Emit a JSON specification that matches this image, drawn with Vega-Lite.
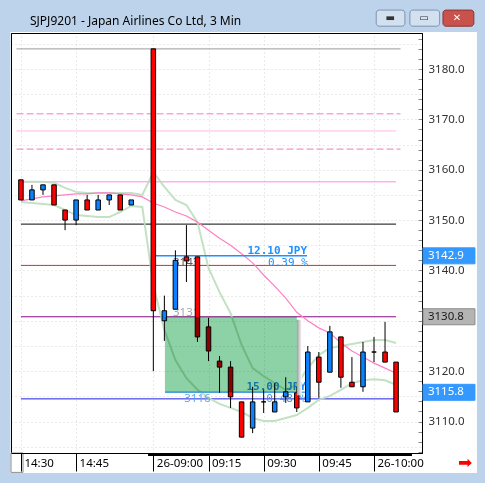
{
  "$schema": "https://vega.github.io/schema/vega-lite/v6.json",
  "description": "SJPJ9201 Japan Airlines, 3-minute candles with moving average, bands, horizontal levels and two measure tools",
  "autosize": "none",
  "width": 411,
  "height": 420,
  "padding": {"left": 11, "top": 33, "right": 63, "bottom": 30},
  "background": "#ffffff",
  "title": {
    "text": "SJPJ9201 - Japan Airlines Co Ltd, 3 Min",
    "anchor": "start",
    "frame": "group",
    "offset": -28,
    "dx": 19,
    "font": "Noto Sans",
    "fontSize": 12,
    "fontWeight": "normal",
    "color": "#000000",
    "zindex": 2
  },
  "config": {
    "view": {"stroke": "#000000", "strokeWidth": 1, "fill": "#ffffff"},
    "font": "Noto Sans"
  },
  "datasets": {
    "bars": [
      {"i": 0, "o": 3158, "h": 3158, "l": 3154, "c": 3154},
      {"i": 1, "o": 3154, "h": 3157, "l": 3154, "c": 3156},
      {"i": 2, "o": 3156, "h": 3157, "l": 3155, "c": 3157},
      {"i": 3, "o": 3157, "h": 3157, "l": 3153, "c": 3153},
      {"i": 4, "o": 3152, "h": 3152, "l": 3148, "c": 3150},
      {"i": 5, "o": 3150, "h": 3154, "l": 3149, "c": 3154},
      {"i": 6, "o": 3154, "h": 3155, "l": 3152, "c": 3152},
      {"i": 7, "o": 3152, "h": 3155, "l": 3152, "c": 3154},
      {"i": 8, "o": 3154, "h": 3155, "l": 3153, "c": 3155},
      {"i": 9, "o": 3155, "h": 3155, "l": 3152, "c": 3152},
      {"i": 10, "o": 3153, "h": 3154, "l": 3153, "c": 3154},
      {"i": 12, "o": 3184, "h": 3184, "l": 3120, "c": 3132},
      {"i": 13, "o": 3130, "h": 3135, "l": 3126, "c": 3132},
      {"i": 14, "o": 3132.3, "h": 3144, "l": 3132.3, "c": 3142},
      {"i": 15, "o": 3142.7, "h": 3149, "l": 3137.7, "c": 3141.9},
      {"i": 16, "o": 3142.7, "h": 3142.7, "l": 3125.8, "c": 3126.8},
      {"i": 17, "o": 3128.8, "h": 3130.6, "l": 3122, "c": 3124},
      {"i": 18, "o": 3122, "h": 3123, "l": 3115.7, "c": 3120.8},
      {"i": 19, "o": 3120.8, "h": 3122, "l": 3112.7, "c": 3114.9},
      {"i": 20, "o": 3113.9, "h": 3113.9, "l": 3106.9, "c": 3106.9},
      {"i": 21, "o": 3108.7, "h": 3116.9, "l": 3107.7, "c": 3113.9},
      {"i": 22, "o": 3113.9, "h": 3116.3, "l": 3111.7, "c": 3113.9},
      {"i": 23, "o": 3111.9, "h": 3117.6, "l": 3111.9, "c": 3113.9},
      {"i": 24, "o": 3114.9, "h": 3118.8, "l": 3113.7, "c": 3115.9},
      {"i": 25, "o": 3115.7, "h": 3116.9, "l": 3111.9, "c": 3112.7},
      {"i": 26, "o": 3113.9, "h": 3125, "l": 3113.9, "c": 3123.8},
      {"i": 27, "o": 3122.8, "h": 3123.8, "l": 3114.7, "c": 3117.8},
      {"i": 28, "o": 3119.8, "h": 3129, "l": 3119.8, "c": 3127.8},
      {"i": 29, "o": 3126.8, "h": 3126.8, "l": 3116.7, "c": 3118.8},
      {"i": 30, "o": 3117.8, "h": 3122.8, "l": 3116.9, "c": 3116.9},
      {"i": 31, "o": 3116.9, "h": 3125.8, "l": 3115.9, "c": 3123.8},
      {"i": 32, "o": 3123.8, "h": 3126.8, "l": 3121.8, "c": 3123.8},
      {"i": 33, "o": 3123.8, "h": 3129.8, "l": 3121.8, "c": 3121.8},
      {"i": 34, "o": 3121.8, "h": 3121.8, "l": 3111.9, "c": 3111.9}
    ],
    "studies": [
      {"i": 0, "up": 3157.6, "ma": 3153.8, "dn": 3153.6},
      {"i": 1, "up": 3157.6, "ma": 3154.2, "dn": 3153.4},
      {"i": 2, "up": 3157.6, "ma": 3154.6, "dn": 3153.2},
      {"i": 3, "up": 3157.4, "ma": 3154.8, "dn": 3153.0},
      {"i": 4, "up": 3156.4, "ma": 3155.0, "dn": 3152.0},
      {"i": 5, "up": 3155.6, "ma": 3155.2, "dn": 3151.0},
      {"i": 6, "up": 3155.4, "ma": 3155.2, "dn": 3150.8},
      {"i": 7, "up": 3155.4, "ma": 3155.4, "dn": 3150.6},
      {"i": 8, "up": 3155.4, "ma": 3155.4, "dn": 3150.6},
      {"i": 9, "up": 3155.4, "ma": 3155.2, "dn": 3151.6},
      {"i": 10, "up": 3155.4, "ma": 3155.0, "dn": 3152.8},
      {"i": 11, "up": 3155.0, "ma": 3154.6, "dn": 3152.6},
      {"i": 12, "up": 3159.5, "ma": 3153.4, "dn": 3137.1},
      {"i": 13, "up": 3156.6, "ma": 3152.6, "dn": 3128.2},
      {"i": 14, "up": 3154.0, "ma": 3151.6, "dn": 3122.2},
      {"i": 15, "up": 3153.0, "ma": 3150.8, "dn": 3118.6},
      {"i": 16, "up": 3149.6, "ma": 3149.6, "dn": 3116.3},
      {"i": 17, "up": 3140.5, "ma": 3148.0, "dn": 3114.7},
      {"i": 18, "up": 3135.7, "ma": 3146.4, "dn": 3113.5},
      {"i": 19, "up": 3131.5, "ma": 3145.0, "dn": 3112.7},
      {"i": 20, "up": 3125.2, "ma": 3143.3, "dn": 3111.9},
      {"i": 21, "up": 3120.6, "ma": 3141.5, "dn": 3110.7},
      {"i": 22, "up": 3119.0, "ma": 3139.1, "dn": 3110.1},
      {"i": 23, "up": 3117.6, "ma": 3136.9, "dn": 3110.1},
      {"i": 24, "up": 3116.3, "ma": 3134.5, "dn": 3110.7},
      {"i": 25, "up": 3117.3, "ma": 3131.7, "dn": 3111.3},
      {"i": 26, "up": 3120.6, "ma": 3130.0, "dn": 3112.7},
      {"i": 27, "up": 3123.2, "ma": 3128.6, "dn": 3114.3},
      {"i": 28, "up": 3124.6, "ma": 3127.6, "dn": 3115.1},
      {"i": 29, "up": 3125.0, "ma": 3125.6, "dn": 3116.3},
      {"i": 30, "up": 3125.4, "ma": 3124.0, "dn": 3117.6},
      {"i": 31, "up": 3125.8, "ma": 3122.8, "dn": 3118.2},
      {"i": 32, "up": 3126.2, "ma": 3121.6, "dn": 3118.4},
      {"i": 33, "up": 3126.2, "ma": 3120.6, "dn": 3118.2},
      {"i": 34, "up": 3125.6, "ma": 3119.6, "dn": 3117.3}
    ],
    "levels": [
      {"name": "high", "price": 3184.0, "x0": -0.4, "x1": 34.4},
      {"name": "r3", "price": 3171.1, "x0": -0.4, "x1": 34.4},
      {"name": "r2", "price": 3167.7, "x0": -0.4, "x1": 34.0},
      {"name": "r1", "price": 3164.1, "x0": -0.4, "x1": 34.4},
      {"name": "prev", "price": 3157.6, "x0": 0, "x1": 34.0},
      {"name": "s1", "price": 3149.2, "x0": 0, "x1": 34.0},
      {"name": "s2", "price": 3141.0, "x0": 0, "x1": 34.0},
      {"name": "ref", "price": 3130.8, "x0": 0, "x1": 34.0},
      {"name": "low", "price": 3114.5, "x0": 0, "x1": 34.0}
    ],
    "measures": [
      {"tool": "m1", "price": 3142.9, "x0": 11.88, "x1": 25.93},
      {"tool": "m2", "price": 3115.8, "x0": 13.06, "x1": 25.84}
    ],
    "amounts": [
      {"tool": "m1", "i": 25.93, "price": 3142.9, "label": "12.10 JPY"},
      {"tool": "m2", "i": 25.84, "price": 3115.8, "label": "15.00 JPY"}
    ],
    "percents": [
      {"tool": "m1", "i": 26.0, "price": 3142.9, "label": "0.39 %"},
      {"tool": "m2", "i": 25.84, "price": 3115.8, "label": "0.48 %"}
    ],
    "ends": [
      {"i": 13.78, "price": 3142.9, "label": "3143", "side": "upper"},
      {"i": 14.8, "price": 3115.8, "label": "3116", "side": "lower"}
    ],
    "mids": [
      {"i": 13.78, "price": 3130.8, "label": "3131"}
    ],
    "zone": [
      {"x0": 13.05, "x1": 25.0, "lo": 3115.8, "hi": 3130.8}
    ],
    "tags": [
      {"tag": "measure", "price": 3142.9},
      {"tag": "level", "price": 3130.8},
      {"tag": "last", "price": 3115.8}
    ],
    "frame": [
      {"part": "top", "x0": -1.95, "x1": 42.1, "y0": 3187.35, "y1": 3193.8},
      {"part": "left", "x0": -1.95, "x1": -0.95, "y0": 3097.7, "y1": 3187.35},
      {"part": "right", "x0": 41.33, "x1": 42.1, "y0": 3097.7, "y1": 3187.35},
      {"part": "bottom", "x0": -1.95, "x1": 42.1, "y0": 3097.7, "y1": 3099.8}
    ],
    "buttons": [
      {"kind": "min", "x0": 32.2, "x1": 34.8, "glyph": "▬"},
      {"kind": "max", "x0": 35.25, "x1": 37.95, "glyph": "▭"},
      {"kind": "close", "x0": 38.25, "x1": 41.05, "glyph": "✕"}
    ]
  },
  "layer": [
    {
      "data": {"name": "bars"},
      "mark": {"type": "rule", "color": "#000000", "strokeWidth": 1},
      "encoding": {
        "x": {
          "field": "i", "type": "quantitative",
          "scale": {"domain": [-0.9, 36.35], "nice": false, "zero": false, "padding": 0},
          "axis": {
            "orient": "bottom", "title": null, "zindex": 1, "offset": 0,
            "values": [0, 5, 12, 17, 22, 27, 32],
            "labelExpr": "datum.value == 0 ? '14:30' : datum.value == 5 ? '14:45' : datum.value == 12 ? '26-09:00' : datum.value == 17 ? '09:15' : datum.value == 22 ? '09:30' : datum.value == 27 ? '09:45' : '26-10:00'",
            "domain": true, "domainColor": "#000000", "ticks": true, "tickSize": 18, "tickColor": "#000000", "tickWidth": 1,
            "labelAlign": "left", "labelBaseline": "top", "labelPadding": -14, "labelOffset": 3,
            "labelFont": "Noto Sans", "labelFontSize": 11.5, "labelColor": "#000000",
            "labelFlush": false, "labelOverlap": false, "labelBound": false,
            "grid": false
          }
        },
        "y": {
          "field": "l", "type": "quantitative",
          "scale": {"domain": [3103.75, 3187.15], "nice": false, "zero": false, "padding": 0},
          "axis": {
            "orient": "right", "title": null,
            "values": [3104, 3106, 3108, 3110, 3112, 3114, 3116, 3118, 3120, 3122, 3124, 3126, 3128, 3130, 3132, 3134, 3136, 3138, 3140, 3142, 3144, 3146, 3148, 3150, 3152, 3154, 3156, 3158, 3160, 3162, 3164, 3166, 3168, 3170, 3172, 3174, 3176, 3178, 3180, 3182, 3184, 3186],
            "labelExpr": "datum.value % 10 == 0 ? format(datum.value, '.1f') : ''",
            "domain": true, "domainColor": "#000000", "domainWidth": 1,
            "ticks": true, "tickSize": -4, "tickColor": "#8a8a8a",
            "labelPadding": 10, "labelFont": "Noto Sans", "labelFontSize": 11.5, "labelColor": "#333333",
            "labelFlush": false, "labelOverlap": false, "labelBound": false,
            "grid": false
          }
        },
        "y2": {"field": "h"},
        "opacity": {"value": 0}
      }
    },
    {
      "data": {"name": "frame"},
      "mark": {"type": "rect", "fill": "#bcd3eb"},
      "encoding": {
        "x": {"field": "x0", "type": "quantitative", "scale": {"domain": [-0.9, 36.35], "nice": false, "zero": false, "padding": 0}, "axis": null},
        "x2": {"field": "x1"},
        "y": {"field": "y0", "type": "quantitative", "scale": {"domain": [3103.75, 3187.15], "nice": false, "zero": false, "padding": 0}, "axis": null},
        "y2": {"field": "y1"}
      }
    },
    {
      "data": {"name": "buttons"},
      "mark": {"type": "rect", "cornerRadius": 3, "strokeWidth": 1},
      "encoding": {
        "x": {"field": "x0", "type": "quantitative", "scale": {"domain": [-0.9, 36.35], "nice": false, "zero": false, "padding": 0}, "axis": null},
        "x2": {"field": "x1"},
        "y": {"datum": 3191.7, "type": "quantitative", "scale": {"domain": [3103.75, 3187.15], "nice": false, "zero": false, "padding": 0}, "axis": null},
        "y2": {"datum": 3188.5},
        "fill": {"field": "kind", "type": "nominal", "legend": null, "scale": {"domain": ["min", "max", "close"], "range": ["#d2e0f0", "#d2e0f0", "#c9524c"]}},
        "stroke": {"field": "kind", "type": "nominal", "legend": null, "scale": {"domain": ["min", "max", "close"], "range": ["#7d93b0", "#7d93b0", "#8a3530"]}}
      }
    },
    {
      "data": {"name": "buttons"},
      "mark": {"type": "text", "align": "center", "baseline": "middle", "font": "DejaVu Sans", "fontSize": 10, "fontWeight": "bold", "xOffset": 14},
      "encoding": {
        "x": {"field": "x0", "type": "quantitative", "scale": {"domain": [-0.9, 36.35], "nice": false, "zero": false, "padding": 0}, "axis": null},
        "y": {"datum": 3190.1, "type": "quantitative", "scale": {"domain": [3103.75, 3187.15], "nice": false, "zero": false, "padding": 0}, "axis": null},
        "text": {"field": "glyph"},
        "color": {"field": "kind", "type": "nominal", "legend": null, "scale": {"domain": ["min", "max", "close"], "range": ["#333333", "#333333", "#ffffff"]}}
      }
    },
    {
      "data": {"values": [{"glyph": "➡"}]},
      "mark": {"type": "text", "align": "center", "baseline": "middle", "font": "DejaVu Sans", "fontSize": 17, "color": "#ff0000"},
      "encoding": {
        "x": {"datum": 40.25, "type": "quantitative", "scale": {"domain": [-0.9, 36.35], "nice": false, "zero": false, "padding": 0}, "axis": null},
        "y": {"datum": 3101.8, "type": "quantitative", "scale": {"domain": [3103.75, 3187.15], "nice": false, "zero": false, "padding": 0}, "axis": null},
        "text": {"field": "glyph"}
      }
    },
    {
      "data": {"values": [{}]},
      "mark": {"type": "rect", "fill": "#ffffff", "stroke": "#8c8c8c", "strokeWidth": 1},
      "encoding": {
        "x": {"datum": -0.9, "type": "quantitative", "scale": {"domain": [-0.9, 36.35], "nice": false, "zero": false, "padding": 0}, "axis": null},
        "x2": {"datum": 0.19},
        "y": {"datum": 3103.75, "type": "quantitative", "scale": {"domain": [3103.75, 3187.15], "nice": false, "zero": false, "padding": 0}, "axis": null},
        "y2": {"datum": 3099.9}
      }
    },
    {
      "data": {"values": [{}]},
      "mark": {"type": "rule", "color": "#000000", "strokeWidth": 3},
      "encoding": {
        "x": {"datum": 11.52, "type": "quantitative", "scale": {"domain": [-0.9, 36.35], "nice": false, "zero": false, "padding": 0}, "axis": null},
        "x2": {"datum": 35.44},
        "y": {"datum": 3103.45, "type": "quantitative", "scale": {"domain": [3103.75, 3187.15], "nice": false, "zero": false, "padding": 0}, "axis": null}
      }
    },
    {
      "data": {"name": "levels"},
      "mark": {"type": "rule"},
      "encoding": {
        "x": {
          "field": "x0", "type": "quantitative",
          "scale": {"domain": [-0.9, 36.35], "nice": false, "zero": false, "padding": 0},
          "axis": {
            "orient": "top", "title": null, "zindex": 0,
            "values": [0, 5, 12, 17, 22, 27, 32],
            "domain": false, "ticks": false, "labels": false,
            "grid": true, "gridColor": "#d4d4d4", "gridDash": [1, 3]
          }
        },
        "x2": {"field": "x1"},
        "y": {
          "field": "price", "type": "quantitative",
          "scale": {"domain": [3103.75, 3187.15], "nice": false, "zero": false, "padding": 0},
          "axis": {
            "orient": "left", "title": null,
            "values": [3105, 3110, 3115, 3120, 3125, 3130, 3135, 3140, 3145, 3150, 3155, 3160, 3165, 3170, 3175, 3180, 3185],
            "domain": true, "domainColor": "#000000", "ticks": false, "labels": false,
            "grid": true, "gridColor": "#d4d4d4", "gridDash": [1, 3]
          }
        },
        "color": {
          "field": "name", "type": "nominal", "legend": null,
          "scale": {
            "domain": ["high", "r3", "r2", "r1", "prev", "s1", "s2", "ref", "low"],
            "range": ["#8c8c8c", "#ff77bd", "#ffb0da", "#ec7fb6", "#ff80ee", "#000000", "#e41a1a", "#800080", "#1414e6"]
          }
        },
        "strokeDash": {
          "field": "name", "type": "nominal", "legend": null,
          "scale": {
            "domain": ["high", "r3", "r2", "r1", "prev", "s1", "s2", "ref", "low"],
            "range": [[1, 0], [7, 3], [1, 0], [7, 3], [1, 0], [1, 0], [1, 0], [1, 0], [1, 0]]
          }
        },
        "strokeWidth": {
          "field": "name", "type": "nominal", "legend": null,
          "scale": {
            "domain": ["high", "r3", "r2", "r1", "prev", "s1", "s2", "ref", "low"],
            "range": [1, 1, 2.5, 1, 1, 1, 1, 1.5, 2]
          }
        }
      }
    },
    {
      "data": {"name": "studies"},
      "mark": {"type": "line", "color": "#bcdfbc", "strokeWidth": 2, "opacity": 0.9},
      "encoding": {
        "x": {"field": "i", "type": "quantitative", "scale": {"domain": [-0.9, 36.35], "nice": false, "zero": false, "padding": 0}, "axis": null},
        "y": {"field": "up", "type": "quantitative", "scale": {"domain": [3103.75, 3187.15], "nice": false, "zero": false, "padding": 0}, "axis": null}
      }
    },
    {
      "data": {"name": "studies"},
      "mark": {"type": "line", "color": "#bcdfbc", "strokeWidth": 2, "opacity": 0.9},
      "encoding": {
        "x": {"field": "i", "type": "quantitative", "scale": {"domain": [-0.9, 36.35], "nice": false, "zero": false, "padding": 0}, "axis": null},
        "y": {"field": "dn", "type": "quantitative", "scale": {"domain": [3103.75, 3187.15], "nice": false, "zero": false, "padding": 0}, "axis": null}
      }
    },
    {
      "data": {"name": "studies"},
      "mark": {"type": "line", "color": "#ff80c4", "strokeWidth": 1.2},
      "encoding": {
        "x": {"field": "i", "type": "quantitative", "scale": {"domain": [-0.9, 36.35], "nice": false, "zero": false, "padding": 0}, "axis": null},
        "y": {"field": "ma", "type": "quantitative", "scale": {"domain": [3103.75, 3187.15], "nice": false, "zero": false, "padding": 0}, "axis": null}
      }
    },
    {
      "data": {"name": "measures"},
      "mark": {"type": "rule", "strokeWidth": 1.5},
      "encoding": {
        "x": {"field": "x0", "type": "quantitative", "scale": {"domain": [-0.9, 36.35], "nice": false, "zero": false, "padding": 0}, "axis": null},
        "x2": {"field": "x1"},
        "y": {"field": "price", "type": "quantitative", "scale": {"domain": [3103.75, 3187.15], "nice": false, "zero": false, "padding": 0}, "axis": null},
        "color": {"field": "tool", "type": "nominal", "legend": null, "scale": {"domain": ["m1", "m2"], "range": ["#1e90ff", "#55a8f0"]}}
      }
    },
    {
      "data": {"name": "amounts"},
      "mark": {"type": "text", "align": "right", "baseline": "bottom", "font": "DejaVu Sans Mono", "fontSize": 11, "fontWeight": "bold"},
      "encoding": {
        "x": {"field": "i", "type": "quantitative", "scale": {"domain": [-0.9, 36.35], "nice": false, "zero": false, "padding": 0}, "axis": null},
        "y": {"field": "price", "type": "quantitative", "scale": {"domain": [3103.75, 3187.15], "nice": false, "zero": false, "padding": 0}, "axis": null},
        "text": {"field": "label"},
        "color": {"value": "#1e90ff"}
      }
    },
    {
      "data": {"name": "percents"},
      "mark": {"type": "text", "align": "right", "baseline": "top", "dy": 1, "font": "DejaVu Sans Mono", "fontSize": 11},
      "encoding": {
        "x": {"field": "i", "type": "quantitative", "scale": {"domain": [-0.9, 36.35], "nice": false, "zero": false, "padding": 0}, "axis": null},
        "y": {"field": "price", "type": "quantitative", "scale": {"domain": [3103.75, 3187.15], "nice": false, "zero": false, "padding": 0}, "axis": null},
        "text": {"field": "label"},
        "color": {"field": "tool", "type": "nominal", "legend": null, "scale": {"domain": ["m1", "m2"], "range": ["#1e90ff", "#3d9ad6"]}}
      }
    },
    {
      "data": {"name": "ends"},
      "mark": {"type": "text", "align": "left", "baseline": "top", "dy": 1, "font": "Noto Sans", "fontSize": 11.5},
      "encoding": {
        "x": {"field": "i", "type": "quantitative", "scale": {"domain": [-0.9, 36.35], "nice": false, "zero": false, "padding": 0}, "axis": null},
        "y": {"field": "price", "type": "quantitative", "scale": {"domain": [3103.75, 3187.15], "nice": false, "zero": false, "padding": 0}, "axis": null},
        "text": {"field": "label"},
        "color": {"field": "side", "type": "nominal", "legend": null, "scale": {"domain": ["upper", "lower"], "range": ["#5a5a5a", "#5aa8f0"]}}
      }
    },
    {
      "data": {"name": "mids"},
      "mark": {"type": "text", "align": "left", "baseline": "alphabetic", "dy": -1, "font": "Noto Sans", "fontSize": 11.5, "color": "#a8a8a8"},
      "encoding": {
        "x": {"field": "i", "type": "quantitative", "scale": {"domain": [-0.9, 36.35], "nice": false, "zero": false, "padding": 0}, "axis": null},
        "y": {"field": "price", "type": "quantitative", "scale": {"domain": [3103.75, 3187.15], "nice": false, "zero": false, "padding": 0}, "axis": null},
        "text": {"field": "label"}
      }
    },
    {
      "data": {"name": "bars"},
      "mark": {"type": "rule", "color": "#000000", "strokeWidth": 1},
      "encoding": {
        "x": {"field": "i", "type": "quantitative", "scale": {"domain": [-0.9, 36.35], "nice": false, "zero": false, "padding": 0}, "axis": null},
        "y": {"field": "l", "type": "quantitative", "scale": {"domain": [3103.75, 3187.15], "nice": false, "zero": false, "padding": 0}, "axis": null},
        "y2": {"field": "h"}
      }
    },
    {
      "data": {"name": "bars"},
      "mark": {"type": "bar", "width": 4.5, "stroke": "#000000", "strokeWidth": 1},
      "encoding": {
        "x": {"field": "i", "type": "quantitative", "scale": {"domain": [-0.9, 36.35], "nice": false, "zero": false, "padding": 0}, "axis": null},
        "y": {"field": "o", "type": "quantitative", "scale": {"domain": [3103.75, 3187.15], "nice": false, "zero": false, "padding": 0}, "axis": null},
        "y2": {"field": "c"},
        "fill": {"condition": {"test": "datum.c > datum.o", "value": "#0a82ff"}, "value": "#ff0000"}
      }
    },
    {
      "data": {"name": "zone"},
      "mark": {
        "type": "rect", "x2Offset": 5, "yOffset": 3, "y2Offset": 3,
        "fill": {"gradient": "linear", "x1": 0, "y1": 0, "x2": 1, "y2": 0, "stops": [{"offset": 0, "color": "#9a9a9a"}, {"offset": 1, "color": "#ffffff"}]}
      },
      "encoding": {
        "x": {"field": "x1", "type": "quantitative", "scale": {"domain": [-0.9, 36.35], "nice": false, "zero": false, "padding": 0}, "axis": null},
        "x2": {"field": "x1"},
        "y": {"field": "hi", "type": "quantitative", "scale": {"domain": [3103.75, 3187.15], "nice": false, "zero": false, "padding": 0}, "axis": null},
        "y2": {"field": "lo"}
      }
    },
    {
      "data": {"name": "zone"},
      "mark": {"type": "rect", "fill": "#8dd1a7", "blend": "multiply"},
      "encoding": {
        "x": {"field": "x0", "type": "quantitative", "scale": {"domain": [-0.9, 36.35], "nice": false, "zero": false, "padding": 0}, "axis": null},
        "x2": {"field": "x1"},
        "y": {"field": "hi", "type": "quantitative", "scale": {"domain": [3103.75, 3187.15], "nice": false, "zero": false, "padding": 0}, "axis": null},
        "y2": {"field": "lo"}
      }
    },
    {
      "data": {"name": "tags"},
      "mark": {"type": "rect", "yOffset": -8, "y2Offset": 8, "strokeWidth": 1},
      "encoding": {
        "x": {"datum": 36.44, "type": "quantitative", "scale": {"domain": [-0.9, 36.35], "nice": false, "zero": false, "padding": 0}, "axis": null},
        "x2": {"datum": 41.15},
        "y": {"field": "price", "type": "quantitative", "scale": {"domain": [3103.75, 3187.15], "nice": false, "zero": false, "padding": 0}, "axis": null},
        "y2": {"field": "price"},
        "fill": {"field": "tag", "type": "nominal", "legend": null, "scale": {"domain": ["measure", "level", "last"], "range": ["#3399ff", "#b4b4b4", "#3399ff"]}},
        "stroke": {"field": "tag", "type": "nominal", "legend": null, "scale": {"domain": ["measure", "level", "last"], "range": ["#3399ff", "#8a8a8a", "#3399ff"]}}
      }
    },
    {
      "data": {"name": "tags"},
      "mark": {"type": "text", "align": "left", "baseline": "middle", "font": "Noto Sans", "fontSize": 11.5},
      "encoding": {
        "x": {"datum": 36.89, "type": "quantitative", "scale": {"domain": [-0.9, 36.35], "nice": false, "zero": false, "padding": 0}, "axis": null},
        "y": {"field": "price", "type": "quantitative", "scale": {"domain": [3103.75, 3187.15], "nice": false, "zero": false, "padding": 0}, "axis": null},
        "text": {"field": "price", "format": ".1f"},
        "color": {"field": "tag", "type": "nominal", "legend": null, "scale": {"domain": ["measure", "level", "last"], "range": ["#ffffff", "#1a1a1a", "#ffffff"]}}
      }
    }
  ],
  "resolve": {
    "scale": {"color": "independent", "fill": "independent", "stroke": "independent", "strokeDash": "independent", "strokeWidth": "independent"},
    "axis": {"x": "independent", "y": "independent"}
  }
}
